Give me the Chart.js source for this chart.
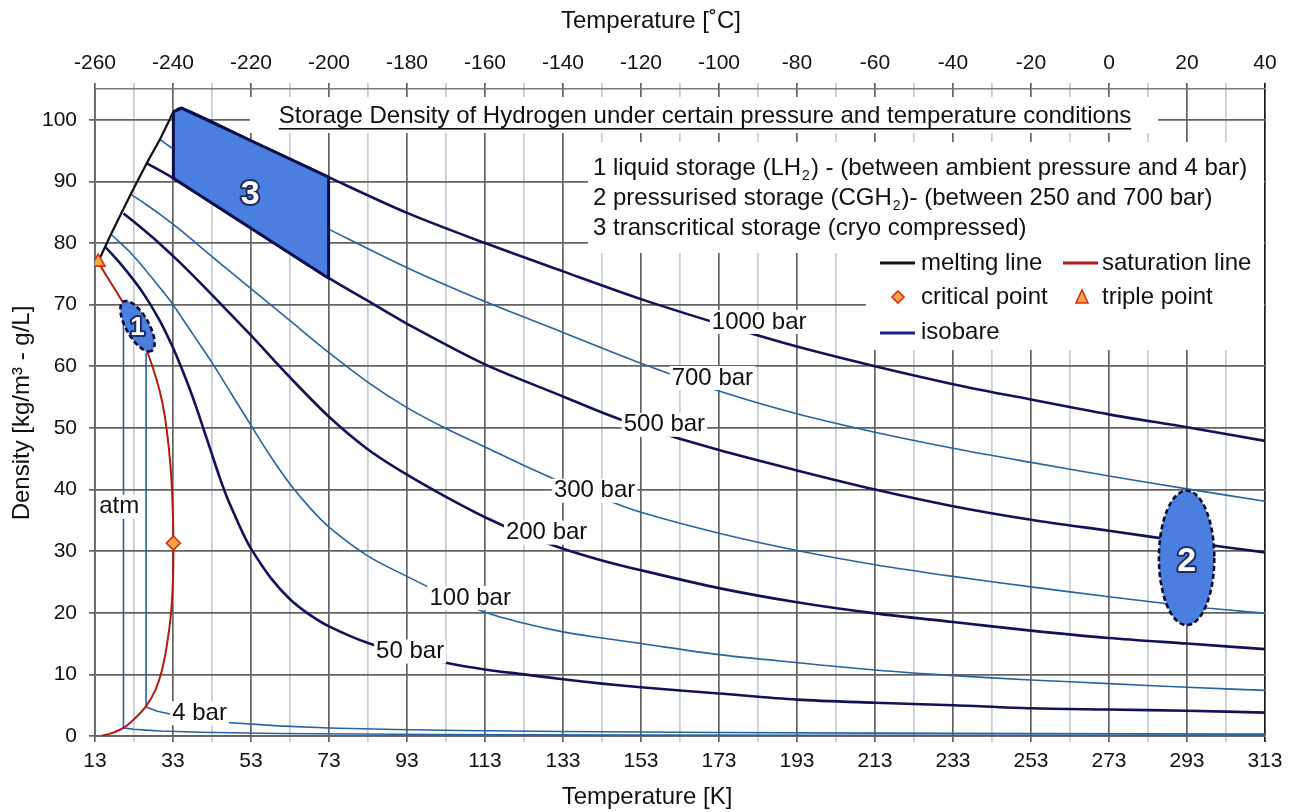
<!DOCTYPE html>
<html>
<head>
<meta charset="utf-8">
<title>Storage density of hydrogen</title>
<script src="https://cdn.jsdelivr.net/npm/chart.js@4.4.1/dist/chart.umd.min.js"></script>
<style>
  html, body { margin: 0; padding: 0; background: #fff; }
  #wrap { width: 1291px; height: 812px; }
</style>
</head>
<body>
<div id="wrap"><canvas id="densityChart" width="1291" height="812"></canvas></div>
<script>
// axis values
const kelvinGrid = [13, 23, 33, 43, 53, 63, 73, 83, 93, 103, 113, 123, 133, 143, 153, 163, 173, 183, 193, 203, 213, 223, 233, 243, 253, 263, 273, 283, 293, 303, 313];
const densityTicks = [0, 10, 20, 30, 40, 50, 60, 70, 80, 90, 100];

// isobars: [temperature K, density kg/m3]
const bar1000 = [[33.1, 101.3], [35.2, 101.9], [53, 96.6], [72.9, 90.7], [93, 84.9], [113, 80.0], [133, 75.4], [153, 70.9], [173, 66.9], [193, 63.2], [213, 60.0], [233, 57.1], [253, 54.6], [273, 52.2], [293, 50.1], [313, 47.9]];
const bar700 = [[29.7, 96.8], [33.1, 95.3], [53, 88.6], [73.4, 82.1], [93, 76.0], [113, 70.5], [133, 65.5], [153, 60.5], [173, 56.0], [193, 52.3], [213, 49.3], [233, 46.7], [253, 44.4], [273, 42.2], [293, 40.1], [313, 38.1]];
const bar500 = [[26.1, 93.0], [33.1, 90.5], [53, 82.4], [73, 74.3], [83, 70.6], [93, 66.9], [113, 60.3], [133, 55.1], [143, 52.5], [153, 50.2], [173, 46.4], [193, 43.1], [213, 40.0], [233, 37.3], [253, 35.1], [273, 33.3], [293, 31.5], [313, 29.8]];
const bar300 = [[22.2, 87.9], [26, 86.3], [29.6, 84.7], [34.7, 82.2], [43, 77.8], [53, 72.6], [63, 67.4], [73, 62.2], [83, 57.4], [93, 53.3], [103, 49.9], [113, 46.9], [123, 43.9], [133, 41.1], [143, 38.6], [153, 36.3], [173, 32.9], [193, 30.1], [213, 27.8], [233, 25.9], [253, 24.2], [273, 22.6], [293, 21.1], [313, 19.9]];
const bar200 = [[20.3, 84.8], [25, 82.4], [29.6, 79.9], [35, 76.7], [43, 71.6], [53, 65.0], [63, 58.2], [73, 51.8], [83, 46.5], [93, 42.4], [103, 38.8], [113, 35.5], [123, 32.7], [133, 30.4], [143, 28.5], [153, 26.9], [173, 24.0], [193, 21.7], [213, 19.9], [233, 18.5], [253, 17.1], [273, 15.9], [293, 15.0], [313, 14.1]];
const bar100 = [[17.3, 81.3], [22, 78.5], [26, 75.6], [29.6, 72.8], [33, 70.0], [38, 65.3], [43, 60.6], [48, 55.5], [53, 50.4], [58, 45.4], [63, 40.9], [68, 37.1], [73, 33.9], [83, 29.2], [93, 25.9], [103, 22.8], [113, 20.1], [123, 18.3], [133, 16.9], [143, 15.9], [153, 15.0], [173, 13.2], [193, 11.9], [213, 10.7], [233, 9.8], [253, 9.1], [273, 8.5], [293, 7.9], [313, 7.4]];
const bar50 = [[15.6, 79.4], [20, 76.3], [25, 72.2], [29.6, 67.4], [33, 63.0], [35, 60.0], [37, 56.8], [39, 53.3], [41, 49.5], [43, 45.7], [45, 41.9], [47, 38.5], [49, 35.6], [51, 32.8], [53, 30.4], [58, 25.7], [63, 22.2], [68, 19.7], [73, 17.8], [83, 15.1], [93, 13.4], [103, 11.9], [113, 10.8], [123, 10.0], [133, 9.2], [143, 8.5], [153, 7.9], [173, 6.9], [193, 5.9], [213, 5.4], [233, 5.0], [253, 4.5], [273, 4.3], [293, 4.1], [313, 3.8]];
const bar4 = [[26.1, 62.2], [26.1, 4.7], [29, 4.0], [33.5, 3.4], [40, 2.7], [47, 2.2], [60, 1.65], [73, 1.3], [90, 1.05], [107, 0.9], [133, 0.72], [173, 0.56], [213, 0.46], [253, 0.38], [313, 0.31]];
const barAtm = [[20.3, 70.6], [20.3, 1.3], [23, 1.1], [26, 0.95], [30, 0.8], [40, 0.6], [60, 0.4], [100, 0.25], [150, 0.17], [200, 0.12], [313, 0.08]];

// phase boundaries
const meltingLine = [[13.8, 76.9], [15.0, 78.6], [17.7, 82.2], [22.0, 87.7], [26.3, 93.0], [29.7, 96.9], [33.1, 101.3]];
const saturationLine = [[13.8, 76.9], [16, 74.6], [18.5, 72.1], [21.2, 69.2], [24, 65.9], [26.5, 62.2], [28.8, 57.8], [30.3, 54.0], [31.4, 49.7], [32.4, 43.5], [32.9, 37.5], [33.1, 31.3], [33.0, 25.5], [32.5, 20.0], [31.5, 15.0], [30.1, 10.5], [28.5, 7.5], [26.3, 5.0], [23.5, 3.0], [20.5, 1.4], [17.5, 0.5], [14.7, 0.0]];
const criticalPoint = [[33.1, 31.3]];
const triplePoint = [[13.8, 76.9]];

// storage zones
const zone3 = [[33.1, 101.3], [35.2, 101.9], [53, 96.6], [72.9, 90.7], [72.9, 74.3], [53, 82.4], [33.1, 90.5], [33.1, 101.3]];
const zone1Axis = [[20.3, 70.5], [27.5, 62.5]];
const zone2Center = [292.9, 28.9];
const zone2Half = [7.1, 10.9];

const isobarNames = ['1000 bar', '700 bar', '500 bar', '300 bar', '200 bar', '100 bar', '50 bar', '4 bar', 'atm'];
const isobarLabelAt = [[183.3, 67.2], [171.3, 58.1], [159, 50.5], [141.1, 39.8], [128.8, 33.0], [109.2, 22.4], [93.8, 13.7], [39.8, 3.7], [19.2, 37.2]];
const zoneLabelAt = [[23.9, 66.3], [292.9, 28.3], [52.8, 87.8]];

const FONT = '"Liberation Sans", Arial, sans-serif';
const NAVY = '#12125a';
const STEEL = '#2563a2';
const ZONE_FILL = '#4a7fe0';

const toXY = arr => arr.map(([x, y]) => ({ x, y }));

function curve(label, pts, color, width, tension) {
    return {
        label: label,
        data: toXY(pts),
        borderColor: color,
        borderWidth: width,
        pointRadius: 0,
        tension: tension,
        fill: false,
        order: 2
    };
}

function marker(label, pts, style, radius) {
    return {
        label: label,
        data: toXY(pts),
        showLine: false,
        pointStyle: style,
        pointRadius: radius,
        pointBackgroundColor: '#f8a64c',
        pointBorderColor: '#d9300c',
        pointBorderWidth: 1.6,
        order: 0
    };
}

const datasets = [
    marker('critical point', criticalPoint, 'rectRot', 7),
    marker('triple point', triplePoint, 'triangle', 8),
    {
        label: 'transcritical storage',
        data: toXY(zone3),
        fill: 'shape',
        backgroundColor: ZONE_FILL,
        borderColor: '#0c0f4c',
        borderWidth: 3,
        borderJoinStyle: 'round',
        pointRadius: 0,
        tension: 0,
        order: 1
    },
    curve('melting line', meltingLine, '#111111', 2.2, 0.2),
    curve('saturation line', saturationLine, '#b51a12', 2, 0.3),
    curve('1000 bar', bar1000, NAVY, 2.6, 0.3),
    curve('700 bar', bar700, STEEL, 1.6, 0.3),
    curve('500 bar', bar500, NAVY, 2.6, 0.3),
    curve('300 bar', bar300, STEEL, 1.6, 0.3),
    curve('200 bar', bar200, NAVY, 2.6, 0.3),
    curve('100 bar', bar100, STEEL, 1.6, 0.3),
    curve('50 bar', bar50, NAVY, 2.6, 0.3),
    curve('4 bar', bar4, STEEL, 1.6, 0),
    curve('atm', barAtm, STEEL, 1.6, 0)
];

function kelvinGridColor(ctx) {
    const v = ctx.tick ? ctx.tick.value : 0;
    if (v === 313) return '#1a1a1a';
    return (v - 13) % 20 === 0 ? '#636363' : '#c3ccd9';
}

// text with a subscript "2"
function drawParts(c, parts, x, y, size) {
    c.textAlign = 'left';
    c.textBaseline = 'middle';
    parts.forEach(p => {
        if (typeof p === 'string') {
            c.font = size + 'px ' + FONT;
            c.fillText(p, x, y);
            x += c.measureText(p).width;
        } else {
            c.font = Math.round(size * 0.6) + 'px ' + FONT;
            c.fillText(p.sub, x + 1, y + 8);
            x += c.measureText(p.sub).width + 2;
        }
    });
}

function ellipsePath(c, cx, cy, rx, ry, rot) {
    c.beginPath();
    c.ellipse(cx, cy, rx, ry, rot, 0, Math.PI * 2);
}

function zoneStyle(c) {
    c.fillStyle = ZONE_FILL;
    c.fill();
    c.setLineDash([5, 3]);
    c.strokeStyle = '#0b0b2e';
    c.lineWidth = 2.6;
    c.stroke();
    c.setLineDash([]);
}

const overlayPlugin = {
    id: 'overlay',
    beforeDatasetsDraw(chart) {
        const c = chart.ctx;
        c.save();
        c.fillStyle = '#ffffff';
        c.fillRect(250, 97, 908, 36);
        c.fillRect(588, 142, 676, 111);
        c.fillRect(866, 253, 398, 97);
        c.restore();
    },
    afterDatasetsDraw(chart) {
        const c = chart.ctx;
        const sx = chart.scales.x, sy = chart.scales.y;
        const px = v => sx.getPixelForValue(v);
        const py = v => sy.getPixelForValue(v);
        c.save();

        // zone 1: liquid storage
        const a = zone1Axis[0], b = zone1Axis[1];
        const x1 = px(a[0]), y1 = py(a[1]), x2 = px(b[0]), y2 = py(b[1]);
        const len = Math.hypot(x2 - x1, y2 - y1) / 2;
        ellipsePath(c, (x1 + x2) / 2, (y1 + y2) / 2, len, len * 0.4, Math.atan2(y2 - y1, x2 - x1));
        zoneStyle(c);

        // zone 2: pressurised storage
        const cx = px(zone2Center[0]), cy = py(zone2Center[1]);
        ellipsePath(c, cx, cy, px(zone2Center[0] + zone2Half[0]) - cx, cy - py(zone2Center[1] + zone2Half[1]), 0);
        zoneStyle(c);

        // zone numbers
        const zoneSizes = [26, 34, 34];
        zoneLabelAt.forEach((p, i) => {
            c.font = 'bold ' + zoneSizes[i] + 'px ' + FONT;
            c.textAlign = 'center';
            c.textBaseline = 'middle';
            c.lineJoin = 'round';
            c.lineWidth = 4;
            c.strokeStyle = '#1b2d63';
            c.strokeText(String(i + 1), px(p[0]), py(p[1]));
            c.fillStyle = '#ffffff';
            c.fillText(String(i + 1), px(p[0]), py(p[1]));
        });

        // isobar labels
        c.font = '24px ' + FONT;
        c.textAlign = 'center';
        c.textBaseline = 'middle';
        isobarNames.forEach((name, i) => {
            const x = px(isobarLabelAt[i][0]), y = py(isobarLabelAt[i][1]);
            const w = c.measureText(name).width;
            c.fillStyle = '#ffffff';
            c.fillRect(x - w / 2 - 2, y - 12, w + 4, 24);
            c.fillStyle = '#111111';
            c.fillText(name, x, y);
        });
        c.restore();
    },
    afterDraw(chart) {
        const c = chart.ctx;
        c.save();
        c.fillStyle = '#111111';

        // heading
        const heading = 'Storage Density of Hydrogen under certain pressure and temperature conditions';
        c.font = '24px ' + FONT;
        c.textAlign = 'center';
        c.textBaseline = 'middle';
        c.fillText(heading, 705, 116);
        const hw = c.measureText(heading).width;
        c.fillRect(705 - hw / 2, 128, hw, 1.6);

        // storage notes
        drawParts(c, ['1 liquid storage (LH', { sub: '2' }, ') - (between ambient pressure and 4 bar)'], 593, 168, 24);
        drawParts(c, ['2 pressurised storage (CGH', { sub: '2' }, ')- (between 250 and 700 bar)'], 593, 198, 24);
        drawParts(c, ['3 transcritical storage (cryo compressed)'], 593, 228, 24);

        // legend
        const swatch = (x, y, color) => {
            c.fillStyle = color;
            c.fillRect(x, y - 1.5, 35, 3);
        };
        swatch(880, 263, '#111111');
        swatch(1063, 263, '#b51a12');
        swatch(880, 333, '#1c1c8a');
        c.fillStyle = '#f8a64c';
        c.strokeStyle = '#d9300c';
        c.lineWidth = 1.6;
        c.beginPath();
        c.moveTo(898, 291); c.lineTo(904, 297); c.lineTo(898, 303); c.lineTo(892, 297); c.closePath();
        c.fill(); c.stroke();
        c.beginPath();
        c.moveTo(1082, 290); c.lineTo(1088, 303); c.lineTo(1076, 303); c.closePath();
        c.fill(); c.stroke();
        c.fillStyle = '#111111';
        drawParts(c, ['melting line'], 921, 263, 24);
        drawParts(c, ['saturation line'], 1102, 263, 24);
        drawParts(c, ['critical point'], 921, 297, 24);
        drawParts(c, ['triple point'], 1102, 297, 24);
        drawParts(c, ['isobare'], 921, 332, 24);

        // axis titles
        c.font = '24px ' + FONT;
        c.textAlign = 'center';
        c.textBaseline = 'middle';
        c.fillText('Temperature [˚C]', 651, 21);
        c.fillText('Temperature [K]', 647, 797);
        c.translate(22, 413);
        c.rotate(-Math.PI / 2);
        c.fillText('Density [kg/m³ - g/L]', 0, 0);
        c.restore();
    }
};

const tickFont = { family: FONT, size: 21 };

new Chart(document.getElementById('densityChart'), {
    type: 'line',
    data: { datasets: datasets },
    options: {
        responsive: false,
        animation: false,
        layout: { padding: { left: 0, right: 26, top: 0, bottom: 0 } },
        plugins: {
            legend: { display: false },
            tooltip: { enabled: false }
        },
        scales: {
            x: {
                type: 'linear',
                position: 'bottom',
                min: 13,
                max: 313,
                afterBuildTicks: s => { s.ticks = kelvinGrid.map(v => ({ value: v })); },
                afterFit: s => { s.height = 76; },
                ticks: {
                    autoSkip: false,
                    maxRotation: 0,
                    padding: 7,
                    color: '#111',
                    font: tickFont,
                    callback: v => ((v - 13) % 20 === 0 ? String(v) : '')
                },
                grid: { color: kelvinGridColor, lineWidth: 1.7, tickLength: 6 },
                border: { color: '#636363', width: 1.7 }
            },
            x2: {
                type: 'linear',
                position: 'top',
                min: 13,
                max: 313,
                afterBuildTicks: s => { s.ticks = kelvinGrid.map(v => ({ value: v })); },
                afterFit: s => { s.height = 89; },
                ticks: {
                    autoSkip: false,
                    maxRotation: 0,
                    padding: 7,
                    color: '#111',
                    font: tickFont,
                    callback: v => ((v - 13) % 20 === 0 ? String(v - 273) : '')
                },
                grid: { drawOnChartArea: false, color: kelvinGridColor, lineWidth: 1.7, tickLength: 6 },
                border: { color: '#7a7a7a', width: 1.6 }
            },
            y: {
                type: 'linear',
                min: 0,
                max: 105,
                afterBuildTicks: s => { s.ticks = densityTicks.map(v => ({ value: v })); },
                afterFit: s => { s.width = 95; },
                ticks: { padding: 12, color: '#111', font: tickFont },
                grid: { color: '#636363', lineWidth: 1.7, tickLength: 6 },
                border: { color: '#636363', width: 1.7 }
            }
        }
    },
    plugins: [overlayPlugin]
});
</script>
</body>
</html>
